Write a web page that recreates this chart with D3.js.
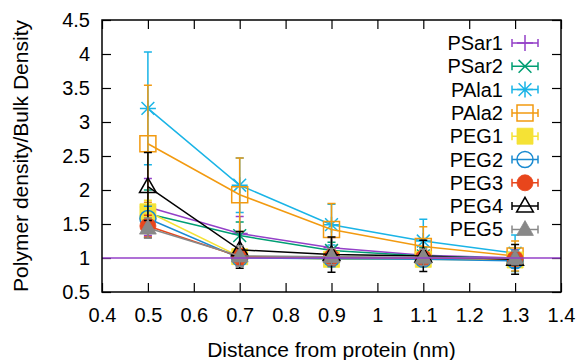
<!DOCTYPE html>
<html>
<head>
<meta charset="utf-8">
<script src="https://cdn.jsdelivr.net/npm/d3@7"></script>
<style>
  body { margin: 0; background: #fff; }
  text { font-family: "Liberation Sans", Arial, sans-serif; }
</style>
</head>
<body>
<svg id="chart" width="579" height="360"></svg>
<script>
// data
const distances = [0.5, 0.7, 0.9, 1.1, 1.3];
const seriesNames = ["PSar1", "PSar2", "PAla1", "PAla2", "PEG1", "PEG2", "PEG3", "PEG4", "PEG5"];

const psar1 = [1.75, 1.36, 1.15, 1.04, 1.00];
const psar1Err = [0.42, 0.25, 0.15, 0.12, 0.12];
const psar2 = [1.65, 1.33, 1.11, 1.03, 0.99];
const psar2Err = [0.35, 0.20, 0.12, 0.12, 0.10];
const pala1 = [3.20, 2.07, 1.49, 1.25, 1.07];
const pala1Err = [0.83, 0.40, 0.30, 0.32, 0.27];
const pala2 = [2.68, 1.93, 1.42, 1.17, 1.03];
const pala2Err = [0.86, 0.54, 0.38, 0.29, 0.22];
const peg1 = [1.68, 1.02, 0.98, 0.98, 0.97];
const peg1Err = [0.17, 0.12, 0.10, 0.10, 0.10];
const peg2 = [1.58, 1.00, 0.99, 0.98, 0.96];
const peg2Err = [0.18, 0.12, 0.12, 0.10, 0.10];
const peg3 = [1.47, 1.02, 1.01, 1.00, 0.99];
const peg3Err = [0.16, 0.12, 0.12, 0.10, 0.10];
const peg4 = [2.05, 1.12, 1.05, 1.03, 0.98];
const peg4Err = [0.50, 0.27, 0.26, 0.23, 0.22];
const peg5 = [1.44, 1.03, 1.02, 1.01, 1.00];
const peg5Err = [0.15, 0.15, 0.12, 0.12, 0.10];

const values = [psar1, psar2, pala1, pala2, peg1, peg2, peg3, peg4, peg5];
const errors = [psar1Err, psar2Err, pala1Err, pala2Err, peg1Err, peg2Err, peg3Err, peg4Err, peg5Err];
const colors = ["#9440c8", "#009e73", "#1ab4e6", "#f29a10", "#f5e235", "#1a8ad0", "#e8461c", "#000000", "#888888"];
const markers = ["plus", "cross", "star", "square", "squareFill", "circle", "circleFill", "triangle", "triangleFill"];

const xTicks = [0.4, 0.5, 0.6, 0.7, 0.8, 0.9, 1, 1.1, 1.2, 1.3, 1.4];
const yTicks = [0.5, 1, 1.5, 2, 2.5, 3, 3.5, 4, 4.5];
const refLevel = 1;

const svg = d3.select("#chart");
const m = { left: 102, right: 561, top: 20, bottom: 292 };

const x = d3.scaleLinear().domain([0.4, 1.4]).range([m.left, m.right]);
const y = d3.scaleLinear().domain([0.5, 4.5]).range([m.bottom, m.top]);

// ticks (inward, mirrored)
const tickLen = 9;
const axes = svg.append("g");
axes.append("g")
    .attr("transform", `translate(0,${m.bottom})`)
    .call(d3.axisBottom(x).tickValues(xTicks).tickSizeInner(-tickLen).tickSizeOuter(0).tickPadding(16).tickFormat(d3.format("")))
    .call(g => g.select(".domain").remove());
axes.append("g")
    .attr("transform", `translate(0,${m.top})`)
    .call(d3.axisTop(x).tickValues(xTicks).tickSizeInner(-tickLen).tickSizeOuter(0).tickFormat(""))
    .call(g => g.select(".domain").remove());
axes.append("g")
    .attr("transform", `translate(${m.left},0)`)
    .call(d3.axisLeft(y).tickValues(yTicks).tickSizeInner(-tickLen).tickSizeOuter(0).tickPadding(12).tickFormat(d3.format("")))
    .call(g => g.select(".domain").remove());
axes.append("g")
    .attr("transform", `translate(${m.right},0)`)
    .call(d3.axisRight(y).tickValues(yTicks).tickSizeInner(-tickLen).tickSizeOuter(0).tickFormat(""))
    .call(g => g.select(".domain").remove());
axes.selectAll("line").attr("stroke", "#000").attr("stroke-width", 1.2);
axes.selectAll("text").attr("font-size", 20).attr("fill", "#000")
    .attr("font-family", "'Liberation Sans', Arial, sans-serif");

function markerPath(type, cx, cy) {
    const s = 8;
    const p = d3.path();
    if (type === "plus" || type === "star") {
        p.moveTo(cx - s, cy); p.lineTo(cx + s, cy);
        p.moveTo(cx, cy - s); p.lineTo(cx, cy + s);
    }
    if (type === "cross" || type === "star") {
        const k = s * 0.8;
        p.moveTo(cx - k, cy - k); p.lineTo(cx + k, cy + k);
        p.moveTo(cx - k, cy + k); p.lineTo(cx + k, cy - k);
    }
    if (type === "square" || type === "squareFill") {
        p.rect(cx - s, cy - s, 2 * s, 2 * s);
    }
    if (type === "circle" || type === "circleFill") {
        p.moveTo(cx + s, cy); p.arc(cx, cy, s, 0, 2 * Math.PI);
    }
    if (type === "triangle" || type === "triangleFill") {
        p.moveTo(cx, cy - s * 1.1); p.lineTo(cx + s * 1.05, cy + s * 0.75);
        p.lineTo(cx - s * 1.05, cy + s * 0.75); p.closePath();
    }
    return p.toString();
}

function drawMarker(g, type, color, cx, cy) {
    const filled = type.endsWith("Fill");
    g.append("path")
        .attr("d", markerPath(type, cx, cy))
        .attr("fill", filled ? color : "none")
        .attr("stroke", color)
        .attr("stroke-width", filled ? 0.8 : 1.5);
}

const line = d3.line().x(d => x(d[0])).y(d => y(d[1]));
const cap = 4;
const legendX = 525, legendTextX = 503, legendY0 = 43, legendStep = 23.3;

seriesNames.forEach((name, i) => {
    const color = colors[i];
    const g = svg.append("g");
    const pts = distances.map((d, j) => [d, values[i][j], errors[i][j]]);

    g.append("path")
        .attr("d", line(pts))
        .attr("fill", "none")
        .attr("stroke", color)
        .attr("stroke-width", 1.5);

    pts.forEach(p => {
        const px = x(p[0]), y1 = y(p[1] + p[2]), y2 = y(p[1] - p[2]);
        g.append("path")
            .attr("d", `M${px},${y1}V${y2}M${px - cap},${y1}H${px + cap}M${px - cap},${y2}H${px + cap}`)
            .attr("stroke", color).attr("stroke-width", 1.5).attr("fill", "none");
        drawMarker(g, markers[i], color, px, y(p[1]));
    });

    // key entry
    const ly = legendY0 + i * legendStep;
    g.append("text")
        .attr("x", legendTextX).attr("y", ly + 7)
        .attr("text-anchor", "end")
        .attr("font-size", 20)
        .text(name);
    g.append("path")
        .attr("d", `M${legendX - 13},${ly}H${legendX + 13}M${legendX - 13},${ly - cap}V${ly + cap}M${legendX + 13},${ly - cap}V${ly + cap}`)
        .attr("stroke", color).attr("stroke-width", 1.5).attr("fill", "none");
    drawMarker(g, markers[i], color, legendX, ly);
});

// reference line at bulk density
svg.append("line")
    .attr("x1", m.left).attr("x2", m.right)
    .attr("y1", y(refLevel)).attr("y2", y(refLevel))
    .attr("stroke", colors[0]).attr("stroke-width", 1.5);

// border
svg.append("rect")
    .attr("x", m.left).attr("y", m.top)
    .attr("width", m.right - m.left).attr("height", m.bottom - m.top)
    .attr("fill", "none").attr("stroke", "#000").attr("stroke-width", 1.5);

svg.append("text")
    .attr("x", (m.left + m.right) / 2).attr("y", 357)
    .attr("text-anchor", "middle").attr("font-size", 21)
    .text("Distance from protein (nm)");

svg.append("text")
    .attr("transform", `translate(28,${(m.top + m.bottom) / 2}) rotate(-90)`)
    .attr("text-anchor", "middle").attr("font-size", 21)
    .text("Polymer density/Bulk Density");
</script>
</body>
</html>
